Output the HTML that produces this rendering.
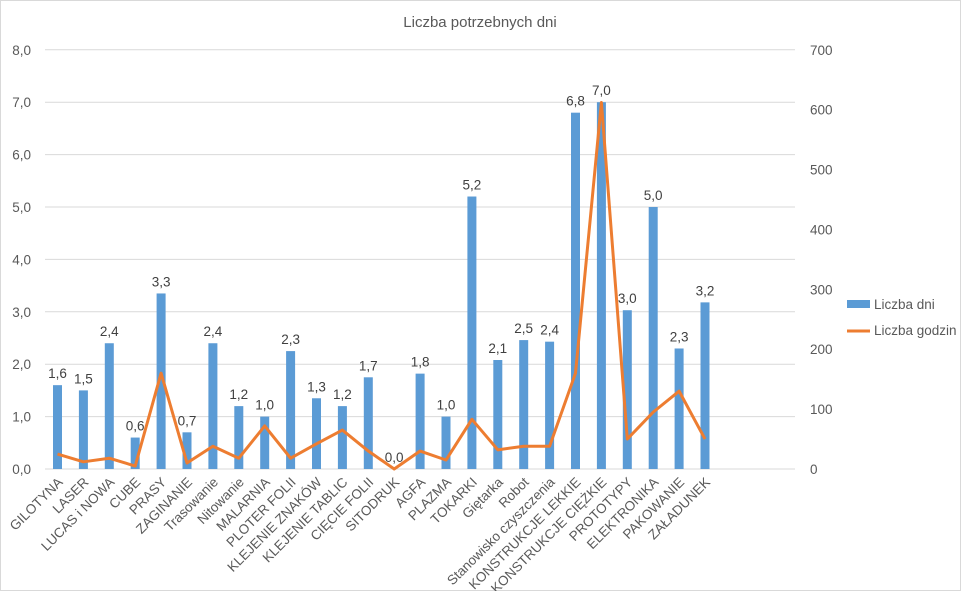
<!DOCTYPE html>
<html><head><meta charset="utf-8"><style>
body{margin:0;background:#fff}
svg{display:block;font-family:"Liberation Sans",sans-serif}
</style></head><body>
<svg id="c" width="961" height="591" xmlns="http://www.w3.org/2000/svg"></svg>
<script>
const names=["GILOTYNA","LASER","LUCAS i NOWA","CUBE","PRASY","ZAGINANIE","Trasowanie","Nitowanie","MALARNIA","PLOTER FOLII","KLEJENIE ZNAKÓW","KLEJENIE TABLIC","CIĘCIE FOLII","SITODRUK","AGFA","PLAZMA","TOKARKI","Giętarka","Robot","Stanowisko czyszczenia","KONSTRUKCJE LEKKIE","KONSTRUKCJE CIĘŻKIE","PROTOTYPY","ELEKTRONIKA","PAKOWANIE","ZAŁADUNEK"];
const days=[1.6,1.5,2.4,0.6,3.35,0.7,2.4,1.2,1.0,2.25,1.35,1.2,1.75,0,1.82,1.0,5.2,2.08,2.46,2.43,6.8,7.0,3.03,5.0,2.3,3.18];
const lab=["1,6","1,5","2,4","0,6","3,3","0,7","2,4","1,2","1,0","2,3","1,3","1,2","1,7","0,0","1,8","1,0","5,2","2,1","2,5","2,4","6,8","7,0","3,0","5,0","2,3","3,2"];
const hrs=[25,12,18,5,160,10,38,18,72,18,42,65,30,0,30,15,83,32,38,38,160,612,50,95,130,50];
const Y0=469,U=52.4,HU=U*8/700;
let s='<rect x="0.5" y="0.5" width="960" height="590" fill="#fff" stroke="#d9d9d9"/>';
s+='<text x="480" y="27" font-size="15" fill="#595959" text-anchor="middle">Liczba potrzebnych dni</text>';
for(let i=0;i<=8;i++){const y=Y0-i*U;s+=`<line x1="45" x2="795" y1="${y}" y2="${y}" stroke="#d9d9d9" stroke-width="1"/>`;
s+=`<text x="31" y="${y+5}" font-size="13.5" fill="#595959" text-anchor="end">${i},0</text>`;}
for(let i=0;i<=7;i++){const y=Y0-i*100*HU;s+=`<text x="810" y="${y+5}" font-size="13.5" fill="#595959">${i*100}</text>`;}
let pts=[];
names.forEach((n,i)=>{const cx=57.5+i*25.9;const h=days[i]*U;
s+=`<rect x="${cx-4.5}" y="${Y0-h}" width="9" height="${h}" fill="#5b9bd5"/>`;
s+=`<text x="${cx}" y="${Y0-h-7}" font-size="13.5" fill="#404040" text-anchor="middle">${lab[i]}</text>`;
s+=`<text transform="translate(${cx+6},${Y0+14}) rotate(-45)" font-size="13.5" fill="#595959" text-anchor="end">${n}</text>`;
pts.push(cx+','+(Y0-hrs[i]*HU));});
s+=`<polyline points="${pts.join(' ')}" fill="none" stroke="#ed7d31" stroke-width="3" stroke-linejoin="round"/>`;
s+='<rect x="847" y="300" width="23" height="8" fill="#5b9bd5"/><text x="874" y="309" font-size="13.5" fill="#595959">Liczba dni</text>';
s+='<line x1="847" x2="870" y1="331" y2="331" stroke="#ed7d31" stroke-width="3"/><text x="874" y="335" font-size="13.5" fill="#595959">Liczba godzin</text>';
document.getElementById('c').innerHTML=s;
</script>
</body></html>
